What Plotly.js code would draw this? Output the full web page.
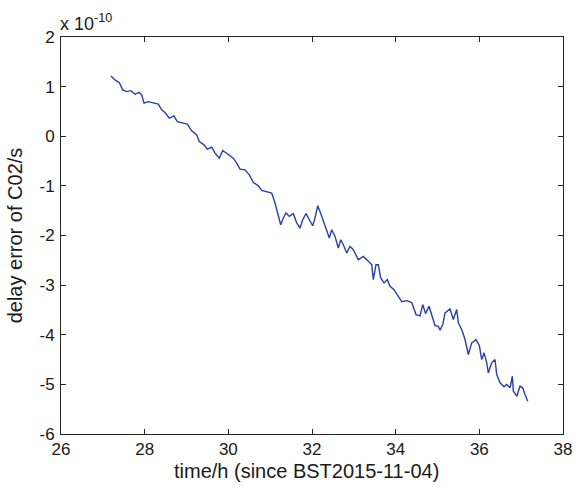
<!DOCTYPE html>
<html>
<head>
<meta charset="utf-8">
<script src="https://cdn.plot.ly/plotly-3.0.1.min.js"></script>
<style>html,body{margin:0;padding:0;background:#fff;}#chart{width:578px;height:489px;}</style>
</head>
<body>
<div id="chart"></div>
<script>
// time in hours since BST2015-11-04
const timeH = [27.195,27.291,27.394,27.475,27.571,27.673,27.769,27.872,27.929,27.984,
28.087,28.207,28.326,28.407,28.486,28.589,28.701,28.780,28.885,29.019,
29.125,29.244,29.306,29.419,29.497,29.603,29.682,29.784,29.866,30.000,
30.119,30.200,30.279,30.399,30.502,30.597,30.717,30.798,30.917,31.037,
31.116,31.195,31.252,31.314,31.379,31.458,31.553,31.635,31.714,31.778,
31.857,31.936,32.017,32.072,32.137,32.192,32.271,32.352,32.414,32.471,
32.550,32.629,32.687,32.749,32.830,32.909,32.988,33.107,33.227,33.346,
33.428,33.466,33.530,33.585,33.643,33.722,33.801,33.865,33.961,34.064,
34.145,34.264,34.384,34.487,34.582,34.647,34.714,34.797,34.862,34.941,
35.020,35.060,35.125,35.180,35.299,35.378,35.460,35.498,35.579,35.658,
35.737,35.818,35.921,36.000,36.057,36.112,36.177,36.215,36.296,36.375,
36.416,36.495,36.590,36.655,36.734,36.789,36.813,36.894,36.973,37.037,
37.092,37.157];
// delay error of C02 in units of 1e-10 s
const delayErr = [1.215,1.135,1.080,0.934,0.899,0.919,0.847,0.887,0.833,0.666,
0.698,0.678,0.646,0.531,0.477,0.364,0.410,0.296,0.276,0.243,
0.109,0.028,-0.107,-0.173,-0.260,-0.219,-0.340,-0.441,-0.288,-0.374,
-0.441,-0.541,-0.662,-0.676,-0.777,-0.932,-0.998,-1.093,-1.113,-1.145,
-1.346,-1.582,-1.783,-1.648,-1.547,-1.616,-1.561,-1.749,-1.849,-1.682,
-1.561,-1.682,-1.803,-1.648,-1.400,-1.515,-1.716,-1.918,-2.050,-1.883,
-2.018,-2.252,-2.085,-2.185,-2.352,-2.219,-2.286,-2.487,-2.421,-2.521,
-2.588,-2.889,-2.588,-2.588,-2.855,-2.956,-2.889,-3.024,-3.091,-3.225,
-3.336,-3.312,-3.352,-3.594,-3.620,-3.392,-3.574,-3.427,-3.628,-3.815,
-3.829,-3.909,-3.795,-3.559,-3.479,-3.694,-3.493,-3.761,-3.895,-4.097,
-4.398,-4.163,-4.097,-4.217,-4.499,-4.364,-4.566,-4.767,-4.566,-4.499,
-4.801,-4.968,-5.048,-5.002,-5.069,-4.835,-5.137,-5.238,-5.036,-5.069,
-5.203,-5.338];
const xTicks = [26,28,30,32,34,36,38];
const yTicks = [-6,-5,-4,-3,-2,-1,0,1,2];

const FONT = 'Liberation Sans, Arial, Helvetica, sans-serif';
const axisCommon = {
  showgrid:false, zeroline:false, showline:true, mirror:'ticks',
  linecolor:'#262626', linewidth:1, ticks:'inside', ticklen:5, tickwidth:1,
  tickcolor:'#262626', tickfont:{family:FONT, size:17, color:'#1a1a1a'}
};

const trace = {
  x: timeH, y: delayErr, type:'scatter', mode:'lines',
  line:{color:'#2b40a4', width:1.4}, hoverinfo:'skip'
};

const layout = {
  width:578, height:489,
  margin:{l:61, r:15, t:37, b:55},
  paper_bgcolor:'#ffffff', plot_bgcolor:'#ffffff',
  showlegend:false,
  xaxis: Object.assign({}, axisCommon, {range:[26,38], tickvals:xTicks, ticktext:xTicks.map(String)}),
  yaxis: Object.assign({}, axisCommon, {range:[-6,2], tickvals:yTicks, ticktext:yTicks.map(String), ticklabelstandoff:2}),
  annotations:[
    {xref:'paper', yref:'paper', x:-0.006, y:1.036, xanchor:'left', yanchor:'middle', showarrow:false,
     text:'x 10<sup>-10</sup>', font:{family:FONT, size:18, color:'#1a1a1a'}},
    {xref:'paper', yref:'paper', x:0.49, y:-0.094, xanchor:'center', yanchor:'middle', showarrow:false,
     text:'time/h (since BST2015-11-04)', font:{family:FONT, size:20, color:'#1a1a1a'}},
    {xref:'paper', yref:'paper', x:-0.092, y:0.5, xanchor:'center', yanchor:'middle', showarrow:false, textangle:-90,
     text:'delay error of C02/s', font:{family:FONT, size:20, color:'#1a1a1a'}}
  ]
};

Plotly.newPlot('chart', [trace], layout, {displayModeBar:false, staticPlot:true});
</script>
</body>
</html>
